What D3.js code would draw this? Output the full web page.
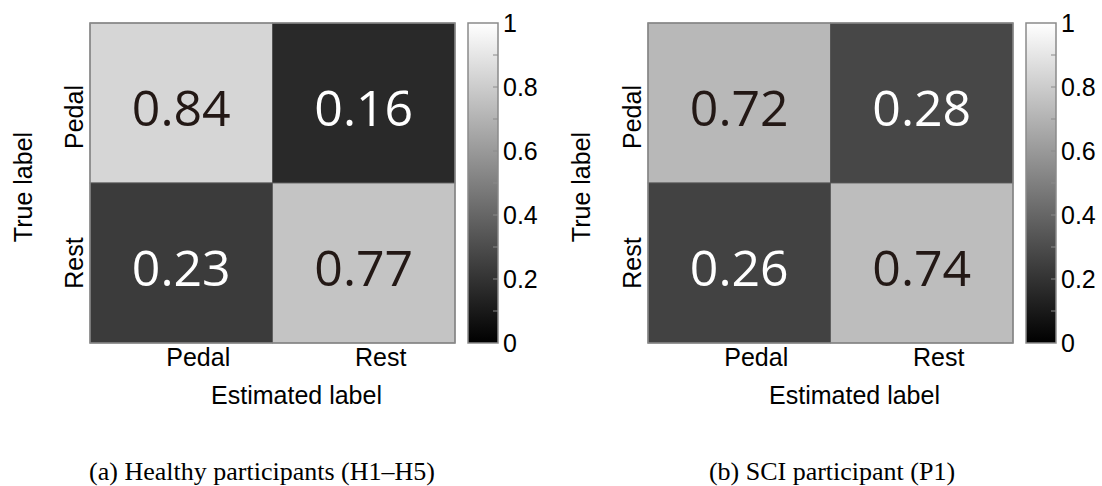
<!DOCTYPE html>
<html>
<head>
<meta charset="utf-8">
<script src="https://cdn.jsdelivr.net/npm/d3@7"></script>
<style>
  body { margin: 0; background: #fff; }
  svg { display: block; }
</style>
</head>
<body>
<svg id="chart" width="1102" height="486"></svg>
<script>
// confusion matrices, rows = true label, cols = estimated label
const categories = ["Pedal", "Rest"];
const healthyValues = [[0.84, 0.16], [0.23, 0.77]];
const sciValues = [[0.72, 0.28], [0.26, 0.74]];
const colorbarTicks = [0, 0.2, 0.4, 0.6, 0.8, 1];
const captions = ["(a) Healthy participants (H1\u2013H5)", "(b) SCI participant (P1)"];

const svg = d3.select("#chart");
const W = 365, H = 320;
const sans = "'Liberation Sans', Arial, sans-serif";

const x = d3.scaleBand().domain(categories).range([0, W]);
const y = d3.scaleBand().domain(categories).range([0, H]);
const gray = d3.scaleLinear().domain([0, 1]).range(["#000", "#fff"]);
const cbY = d3.scaleLinear().domain([0, 1]).range([H, 0]);

const defs = svg.append("defs");
const grad = defs.append("linearGradient")
  .attr("id", "cbgrad").attr("x1", 0).attr("y1", 1).attr("x2", 0).attr("y2", 0);
grad.append("stop").attr("offset", 0).attr("stop-color", gray(0));
grad.append("stop").attr("offset", 1).attr("stop-color", gray(1));

function drawPanel(values, left, captionX, caption) {
  const g = svg.append("g").attr("transform", `translate(${left},23)`);

  const cells = [];
  values.forEach((row, i) => row.forEach((v, j) => cells.push({ t: categories[i], e: categories[j], v })));

  g.selectAll("rect.cell")
    .data(cells)
    .join("rect")
    .attr("class", "cell")
    .attr("x", d => x(d.e))
    .attr("y", d => y(d.t))
    .attr("width", x.bandwidth())
    .attr("height", y.bandwidth())
    .attr("fill", d => gray(d.v))
    .attr("stroke", "#555")
    .attr("stroke-width", 0.8);

  g.append("rect")
    .attr("width", W).attr("height", H)
    .attr("fill", "none").attr("stroke", "#8a8a8a").attr("stroke-width", 1.5);

  g.selectAll("text.val")
    .data(cells)
    .join("text")
    .attr("class", "val")
    .attr("x", d => x(d.e) + x.bandwidth() / 2)
    .attr("y", d => y(d.t) + y.bandwidth() / 2 + 23)
    .attr("text-anchor", "middle")
    .attr("font-family", "'Open Sans', sans-serif")
    .attr("font-size", 50)
    .attr("fill", d => d.v > 0.5 ? "#231815" : "#fff")
    .text(d => d.v.toFixed(2));

  // x tick labels
  const xAxis = g.append("g")
    .attr("transform", `translate(0,${H})`)
    .call(d3.axisBottom(x).tickSize(0).tickPadding(0));
  xAxis.select(".domain").remove();
  xAxis.selectAll("text")
    .attr("font-family", sans).attr("font-size", 25).attr("fill", "#000")
    .attr("dy", 0).attr("y", 23).attr("dx", 17);

  // y tick labels (rotated)
  const yShift = [14, 0];
  g.selectAll("text.ylab")
    .data(categories)
    .join("text")
    .attr("class", "ylab")
    .attr("transform", (d, i) => `translate(-7,${y(d) + y.bandwidth() / 2 + yShift[i]}) rotate(-90)`)
    .attr("text-anchor", "middle")
    .attr("font-family", sans).attr("font-size", 25)
    .text(d => d);

  g.append("text")
    .attr("transform", `translate(-58,${H / 2 + 4}) rotate(-90)`)
    .attr("text-anchor", "middle")
    .attr("font-family", sans).attr("font-size", 25)
    .text("True label");

  g.append("text")
    .attr("x", W / 2 + 24).attr("y", H + 61)
    .attr("text-anchor", "middle")
    .attr("font-family", sans).attr("font-size", 25)
    .text("Estimated label");

  // colorbar
  const cb = g.append("g").attr("transform", `translate(${W + 13},0)`);
  cb.append("rect")
    .attr("width", 30).attr("height", H)
    .attr("fill", "url(#cbgrad)")
    .attr("stroke", "#8a8a8a").attr("stroke-width", 1.5);
  cb.selectAll("line.minor")
    .data(cbY.ticks(10).filter(t => t > 0 && t < 1))
    .join("line")
    .attr("class", "minor")
    .attr("x1", 25).attr("x2", 30)
    .attr("y1", d => cbY(d)).attr("y2", d => cbY(d))
    .attr("stroke", "#8a8a8a").attr("stroke-width", 1);
  cb.selectAll("text.cbl")
    .data(colorbarTicks)
    .join("text")
    .attr("class", "cbl")
    .attr("x", 35)
    .attr("y", d => cbY(d))
    .attr("dy", "0.35em")
    .attr("font-family", sans).attr("font-size", 25)
    .text(d => d3.format("~g")(d));

  svg.append("text")
    .attr("x", captionX).attr("y", 480)
    .attr("text-anchor", "middle")
    .attr("font-family", "'Liberation Serif', 'Times New Roman', serif")
    .attr("font-size", 26)
    .text(caption);
}

drawPanel(healthyValues, 90, 262, captions[0]);
drawPanel(sciValues, 648, 832, captions[1]);
</script>
</body>
</html>
